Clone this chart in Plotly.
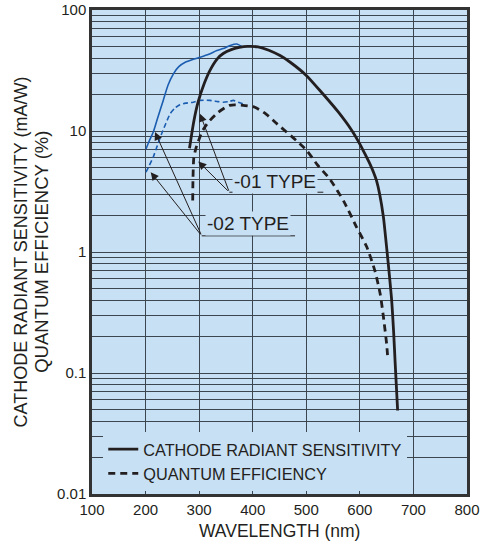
import numpy as np
import plotly.graph_objects as go

# ---------------- data ----------------
# -01 TYPE, cathode radiant sensitivity (mA/W)
cath01_nm = [282, 290, 298, 310, 320, 335, 345, 360, 375, 390, 410, 430, 451, 470,
             500, 530, 560, 585, 600, 610, 620, 626, 631, 637, 644, 649, 653, 659,
             663, 666, 670.5]
cath01_val = [7.2, 12, 17.3, 25, 31.6, 40, 43.7, 47, 49, 50, 49.5, 46.5, 42, 37,
              28.8, 20.5, 14.3, 10.1, 7.8, 6.4, 5.2, 4.5, 3.9, 3.0, 1.94, 1.2, 0.8, 0.42,
              0.22, 0.119, 0.049]

# -01 TYPE, quantum efficiency (%)
qe01_nm = [288, 288.5, 290, 294, 298, 305, 317, 335, 357, 382, 404, 425, 445, 482,
           501, 520, 544, 570, 594, 613, 628, 638, 644, 650, 652]
qe01_val = [2.67, 4.0, 6.0, 7.2, 8.1, 9.8, 11.8, 14.2, 16.3, 16.3, 15.7, 13.8, 11.5, 8.3,
            6.9, 5.3, 4.0, 2.62, 1.6, 1.1, 0.70, 0.45, 0.29, 0.174, 0.135]

# -02 TYPE, cathode radiant sensitivity (mA/W)
cath02_nm = [200.8, 207, 214.4, 223, 233, 242, 252, 262, 274, 288, 302, 318, 333,
             345, 358, 370, 382]
cath02_val = [7.1, 8.3, 9.8, 13, 17.9, 24, 29.7, 34, 37, 39, 40.7, 43, 46.2,
              48, 50.9, 52.3, 49.2]

# -02 TYPE, quantum efficiency (%)
qe02_nm = [200.8, 207, 214.4, 222, 230, 238, 246, 255, 264, 275, 289, 302, 320,
           335, 345, 355, 364, 373, 382]
qe02_val = [4.57, 5.2, 6.1, 7.6, 9.5, 11.6, 13.9, 15.5, 16.5, 17.0, 17.3, 17.9, 17.9,
            17.5, 17.3, 17.5, 17.9, 17.3, 16.8]

x_ticks = [100, 200, 300, 400, 500, 600, 700, 800]
y_ticks = [0.01, 0.1, 1, 10, 100]
y_ticktext = ["0.01", "0.1", "1", "10", "100"]

legend_names = ["CATHODE RADIANT SENSITIVITY", "QUANTUM EFFICIENCY"]

# ---------------- styling ----------------
BG = "#c8e0f4"
INK = "#231f20"
GRID = "#3c4650"
FRAME = "#333333"
BLUE = "#1b5db0"
FONT = "Liberation Sans, Arial, sans-serif"

minor_vals = [m * 10.0 ** e for e in range(-2, 2) for m in range(2, 10)]

fig = go.Figure()
fig.add_trace(go.Scatter(x=cath02_nm, y=cath02_val, mode="lines",
                         line=dict(color=BLUE, width=1.6, shape="spline", smoothing=0.6),
                         showlegend=False, hoverinfo="skip"))
fig.add_trace(go.Scatter(x=qe02_nm, y=qe02_val, mode="lines",
                         line=dict(color=BLUE, width=1.6, dash="5px,3px",
                                   shape="spline", smoothing=0.6),
                         showlegend=False, hoverinfo="skip"))
fig.add_trace(go.Scatter(x=cath01_nm, y=cath01_val, mode="lines",
                         name=legend_names[0],
                         line=dict(color=INK, width=2.8, shape="spline", smoothing=0.6)))
fig.add_trace(go.Scatter(x=qe01_nm, y=qe01_val, mode="lines",
                         name=legend_names[1],
                         line=dict(color=INK, width=2.8, dash="7px,5px",
                                   shape="spline", smoothing=0.6)))

axis_common = dict(showgrid=True, gridcolor=GRID, gridwidth=1, showline=True,
                   linecolor=FRAME, linewidth=2.5, mirror=True, ticks="",
                   zeroline=False, automargin=False, ticklabeloverflow="allow",
                   tickfont=dict(size=15, color=INK, family=FONT))

fig.update_layout(
    width=480, height=545,
    margin=dict(l=92, r=13, t=9.5, b=50.5, autoexpand=False),
    paper_bgcolor="white", plot_bgcolor=BG,
    font=dict(family=FONT, color=INK, size=15),
    showlegend=True,
    legend=dict(x=0.03, y=0.006, xanchor="left", yanchor="bottom", bgcolor=BG,
                font=dict(size=16.3, family=FONT, color=INK),
                itemwidth=30, tracegroupgap=0, borderwidth=0),
    xaxis=dict(range=[100, 800], tickvals=x_ticks, **axis_common),
    yaxis=dict(type="log", range=[-2, 2], tickvals=y_ticks, ticktext=y_ticktext,
               minor=dict(tickvals=minor_vals, showgrid=True, gridcolor=GRID,
                          gridwidth=1, ticks=""),
               **axis_common),
)

ann = []
# axis titles
ann.append(dict(text="WAVELENGTH (nm)", xref="paper", yref="paper", x=0.5, y=0,
                yshift=-37, xanchor="center", yanchor="middle", showarrow=False,
                font=dict(size=17.5, color=INK, family=FONT)))
ann.append(dict(text="CATHODE RADIANT SENSITIVITY (mA/W)", xref="paper", yref="paper",
                x=0, y=0.5, xshift=-71.5, xanchor="center", yanchor="middle",
                textangle=-90, showarrow=False,
                font=dict(size=18, color=INK, family=FONT)))
ann.append(dict(text="QUANTUM EFFICIENCY (%)", xref="paper", yref="paper",
                x=0, y=0.5, xshift=-51.2, xanchor="center", yanchor="middle",
                textangle=-90, showarrow=False,
                font=dict(size=18.5, color=INK, family=FONT)))

# type labels (layout positions in data units)
labels = [
    dict(text="-01 TYPE", x=441.6, y=3.85, ul=(356.3, 531.8, 3.12),
         heads=[(301.6, 13.9), (298.4, 5.6)]),
    dict(text="-02 TYPE", x=390.3, y=1.71, ul=(304.8, 479.0, 1.36),
         heads=[(217.6, 9.8), (209.6, 4.57)]),
]
shapes = []
for lb in labels:
    ann.append(dict(text=lb["text"], x=lb["x"], y=np.log10(lb["y"]), xref="x", yref="y",
                    showarrow=False, bgcolor=BG, borderpad=1,
                    font=dict(size=19, color=INK, family=FONT)))
    x0, x1, yu = lb["ul"]
    shapes.append(dict(type="line", xref="x", yref="y", x0=x0, x1=x1, y0=yu, y1=yu,
                       line=dict(color=INK, width=1)))
    for hx, hy in lb["heads"]:
        ann.append(dict(text="", x=hx, y=np.log10(hy), xref="x", yref="y",
                        ax=x0, ay=np.log10(yu), axref="x", ayref="y",
                        showarrow=True, arrowhead=2, arrowsize=1.6, arrowwidth=1,
                        arrowcolor=INK, standoff=0))

fig.update_layout(annotations=ann, shapes=shapes)
fig.write_html(
    "out.html",
    config={"displayModeBar": False},
    post_script="document.body.style.margin='0';document.body.style.overflow='hidden';",
)
